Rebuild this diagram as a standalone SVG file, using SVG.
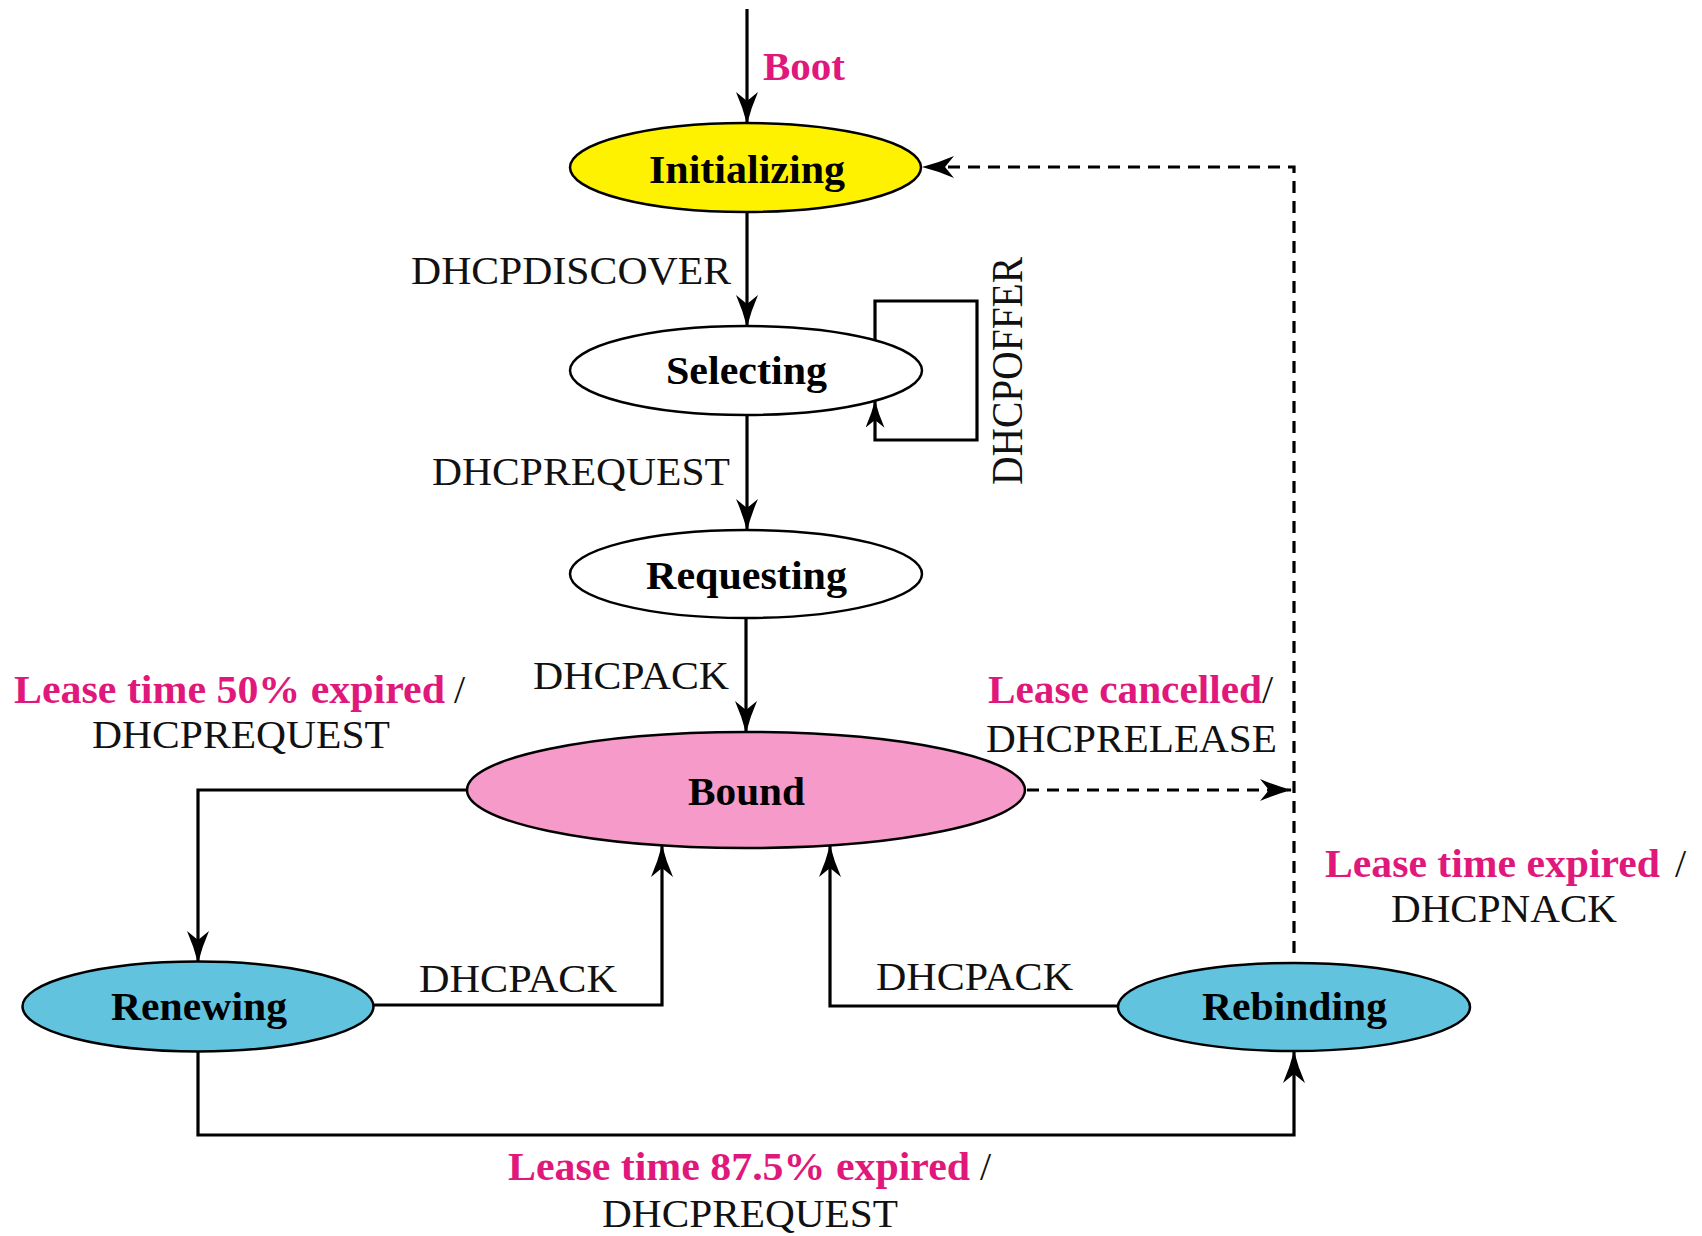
<svg xmlns="http://www.w3.org/2000/svg" width="1702" height="1236" viewBox="0 0 1702 1236">
<style>
  .node { stroke: #000; stroke-width: 2.5; }
  .lbl { font-family: "Liberation Serif", "Times New Roman", serif; font-weight: bold; font-size: 41px; fill: #000; }
  .msg { font-family: "Liberation Serif", "Times New Roman", serif; font-size: 40px; fill: #111; }
  .evt { font-family: "Liberation Serif", "Times New Roman", serif; font-weight: bold; font-size: 40px; fill: #E0187C; }
  .conn { fill: none; stroke: #000; stroke-width: 3.2; }
  .dash { fill: none; stroke: #000; stroke-width: 3.2; stroke-dasharray: 12 8; }
</style>
<defs>
  <marker id="arr" viewBox="0 0 32 22" refX="31" refY="11" markerWidth="32" markerHeight="22" markerUnits="userSpaceOnUse" orient="auto">
    <path d="M0,0 Q16,7 32,11 Q16,15 0,22 L9,11 Z" fill="#000"/>
  </marker>
  <marker id="arrs" viewBox="0 0 32 22" refX="31" refY="11" markerWidth="28" markerHeight="19" markerUnits="userSpaceOnUse" orient="auto">
    <path d="M0,0 Q16,7 32,11 Q16,15 0,22 L9,11 Z" fill="#000"/>
  </marker>
</defs>
<rect width="1702" height="1236" fill="#fff"/>

<g id="connectors">
  <path class="conn" d="M747,9 L747,123" marker-end="url(#arr)"/>
  <path class="conn" d="M747,212 L747,326" marker-end="url(#arr)"/>
  <path class="conn" d="M747,415 L747,530" marker-end="url(#arr)"/>
  <path class="conn" d="M746,618 L746,732" marker-end="url(#arr)"/>
  <path class="conn" d="M875,340 L875,301 L977,301 L977,440 L875,440 L875,401" marker-end="url(#arrs)"/>
  <path class="conn" d="M467,790 L198,790 L198,962" marker-end="url(#arr)"/>
  <path class="conn" d="M373,1005 L662,1005 L662,846" marker-end="url(#arr)"/>
  <path class="conn" d="M1118,1006 L830,1006 L830,846" marker-end="url(#arr)"/>
  <path class="conn" d="M198,1052 L198,1135 L1294,1135 L1294,1052" marker-end="url(#arr)"/>
  <path class="dash" d="M1027,790 L1291,790" marker-end="url(#arr)"/>
  <path class="dash" d="M1294,953 L1294,167 L923,167" marker-end="url(#arr)"/>
</g>

<g id="node-initializing">
  <ellipse class="node" cx="745.5" cy="167.5" rx="175.5" ry="44.5" fill="#FFF200"/>
  <text class="lbl" x="649" y="183" textLength="196" lengthAdjust="spacingAndGlyphs">Initializing</text>
</g>
<g id="node-selecting">
  <ellipse class="node" cx="746" cy="370.5" rx="176" ry="44.5" fill="#fff"/>
  <text class="lbl" x="666" y="384" textLength="161" lengthAdjust="spacingAndGlyphs">Selecting</text>
</g>
<g id="node-requesting">
  <ellipse class="node" cx="746" cy="574" rx="176" ry="44" fill="#fff"/>
  <text class="lbl" x="646" y="589" textLength="201" lengthAdjust="spacingAndGlyphs">Requesting</text>
</g>
<g id="node-bound">
  <ellipse class="node" cx="746" cy="790" rx="279" ry="58" fill="#F59AC9"/>
  <text class="lbl" x="688" y="805" textLength="117" lengthAdjust="spacingAndGlyphs">Bound</text>
</g>
<g id="node-renewing">
  <ellipse class="node" cx="198" cy="1006.5" rx="175.5" ry="45" fill="#62C3DF"/>
  <text class="lbl" x="111" y="1020" textLength="176" lengthAdjust="spacingAndGlyphs">Renewing</text>
</g>
<g id="node-rebinding">
  <ellipse class="node" cx="1294" cy="1007" rx="176" ry="44" fill="#62C3DF"/>
  <text class="lbl" x="1202" y="1020" textLength="185" lengthAdjust="spacingAndGlyphs">Rebinding</text>
</g>

<g id="labels">
  <text class="evt" x="763" y="80" textLength="82" lengthAdjust="spacingAndGlyphs">Boot</text>
  <text class="msg" x="411" y="284" textLength="320" lengthAdjust="spacingAndGlyphs">DHCPDISCOVER</text>
  <text class="msg" x="432" y="485" textLength="298" lengthAdjust="spacingAndGlyphs">DHCPREQUEST</text>
  <text class="msg" transform="translate(1022,485) rotate(-90) scale(1,1.1)" x="0" y="0" textLength="228" lengthAdjust="spacingAndGlyphs">DHCPOFFER</text>
  <text class="msg" x="533" y="689" textLength="196" lengthAdjust="spacingAndGlyphs">DHCPACK</text>

  <text class="evt" x="14" y="703" textLength="431" lengthAdjust="spacingAndGlyphs">Lease time 50% expired</text>
  <text class="msg" x="454" y="703">/</text>
  <text class="msg" x="92" y="748" textLength="298" lengthAdjust="spacingAndGlyphs">DHCPREQUEST</text>

  <text class="evt" x="988" y="703" textLength="274" lengthAdjust="spacingAndGlyphs">Lease cancelled</text>
  <text class="msg" x="1262" y="703">/</text>
  <text class="msg" x="986" y="752" textLength="291" lengthAdjust="spacingAndGlyphs">DHCPRELEASE</text>

  <text class="evt" x="1325" y="877" textLength="335" lengthAdjust="spacingAndGlyphs">Lease time expired</text>
  <text class="msg" x="1675" y="877">/</text>
  <text class="msg" x="1391" y="922" textLength="226" lengthAdjust="spacingAndGlyphs">DHCPNACK</text>

  <text class="msg" x="419" y="992" textLength="198" lengthAdjust="spacingAndGlyphs">DHCPACK</text>
  <text class="msg" x="876" y="990" textLength="197" lengthAdjust="spacingAndGlyphs">DHCPACK</text>

  <text class="evt" x="508" y="1180" textLength="462" lengthAdjust="spacingAndGlyphs">Lease time 87.5% expired</text>
  <text class="msg" x="980" y="1180">/</text>
  <text class="msg" x="602" y="1227" textLength="296" lengthAdjust="spacingAndGlyphs">DHCPREQUEST</text>
</g>
</svg>
